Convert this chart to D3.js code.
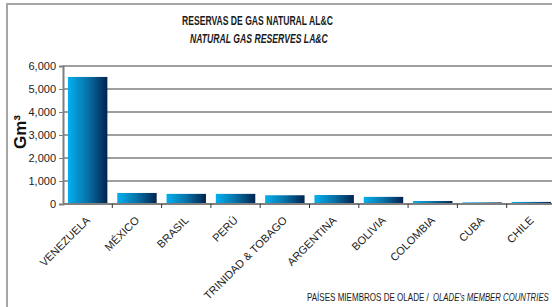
<!DOCTYPE html>
<html>
<head>
<meta charset="utf-8">
<script src="https://cdn.jsdelivr.net/npm/d3@7"></script>
<style>
  body { margin: 0; background: white; }
  #chart { width: 552px; height: 307px; overflow: hidden; }
</style>
</head>
<body>
<div id="chart"></div>
<script>
// data
const countries = ["VENEZUELA", "MÉXICO", "BRASIL", "PERÚ", "TRINIDAD & TOBAGO",
                   "ARGENTINA", "BOLIVIA", "COLOMBIA", "CUBA", "CHILE"];
const reserves = [5524, 480, 440, 440, 380, 390, 310, 130, 70, 90];
const yTicks = [0, 1000, 2000, 3000, 4000, 5000, 6000];

const W = 552, H = 307;
const margin = { top: 66, right: -4, bottom: 103, left: 63 };
const width = W - margin.left - margin.right;
const height = H - margin.top - margin.bottom;
const sans = "'Liberation Sans', Arial, sans-serif";

const root = d3.select("#chart").append("svg")
    .attr("width", W).attr("height", H);

// squeeze a text horizontally so it looks like a narrow face
function narrowText(x0, y0, w, size, bold, italic, str) {
    const t = root.append("text")
        .style("font-family", sans).style("font-size", size + "px").style("fill", "#1a1a1a")
        .style("font-weight", bold ? "bold" : "normal")
        .style("font-style", italic ? "italic" : "normal")
        .text(str);
    const k = w / t.node().getComputedTextLength();
    t.attr("transform", `translate(${x0}, ${y0}) scale(${k}, 1)`);
    return t;
}

// gradient for the bars
const grad = root.append("defs").append("linearGradient")
    .attr("id", "barGrad")
    .attr("x1", "0%").attr("x2", "100%").attr("y1", "0%").attr("y2", "0%");
grad.append("stop").attr("offset", "0%").attr("stop-color", "#03b0ee");
grad.append("stop").attr("offset", "50%").attr("stop-color", "#0872a8");
grad.append("stop").attr("offset", "100%").attr("stop-color", "#00234f");

// chart frame
root.append("rect")
    .attr("x", 7).attr("y", 4).attr("width", W + 10).attr("height", H + 10)
    .attr("fill", "none").attr("stroke", "#a6a6a6").attr("stroke-width", 2);

// titles
narrowText(182, 25, 151, 12.5, true, false, "RESERVAS DE GAS NATURAL AL&C");
narrowText(190, 43, 138, 12.5, true, true, "NATURAL GAS RESERVES LA&C");

const svg = root.append("g")
    .attr("transform", `translate(${margin.left}, ${margin.top})`);

const x = d3.scaleBand().domain(countries).range([0, width]).paddingInner(0.2).paddingOuter(0.1);
const y = d3.scaleLinear().domain([0, 6000]).range([height, 0]);

// gridlines
svg.selectAll(".grid").data(yTicks.slice(1)).enter().append("line")
    .attr("x1", 0).attr("x2", width + 10)
    .attr("y1", d => y(d)).attr("y2", d => y(d))
    .attr("stroke", "#7f7f7f").attr("stroke-width", 1.5);

// bars
svg.selectAll(".bar").data(reserves).enter().append("rect")
    .attr("class", "bar")
    .attr("x", (d, i) => x(countries[i]))
    .attr("y", d => y(d))
    .attr("width", x.bandwidth())
    .attr("height", d => height - y(d))
    .attr("fill", "url(#barGrad)");

// y axis
const yAxis = svg.append("g")
    .call(d3.axisLeft(y).tickValues(yTicks).tickFormat(d3.format(",")).tickSize(4).tickPadding(3));
yAxis.select(".domain").attr("stroke", "#7f7f7f").attr("stroke-width", 2);
yAxis.selectAll(".tick line").attr("stroke", "#7f7f7f");
yAxis.selectAll("text").style("font-family", sans).style("font-size", "11px").style("fill", "#222");

// x axis (ticks at band boundaries)
const step = x.step();
const xBase = svg.append("g").attr("transform", `translate(0, ${height})`);
xBase.append("line").attr("x1", 0).attr("x2", width + 10)
    .attr("stroke", "#7f7f7f").attr("stroke-width", 2);
xBase.selectAll(".xtick").data(countries).enter().append("line")
    .attr("x1", (d, i) => (i + 1) * step).attr("x2", (d, i) => (i + 1) * step)
    .attr("y1", 0).attr("y2", 4)
    .attr("stroke", "#333").attr("stroke-width", 1);

xBase.selectAll(".xlabel").data(countries).enter().append("text")
    .attr("text-anchor", "end")
    .attr("transform", d => `translate(${x(d) + x.bandwidth() / 2 + 3}, 17) rotate(-45)`)
    .style("font-family", sans).style("font-size", "11px").style("fill", "#222")
    .text(d => d);

// y axis title
root.append("text")
    .attr("transform", "translate(26, 132) rotate(-90)")
    .attr("text-anchor", "middle")
    .style("font-family", sans).style("font-weight", "bold").style("font-size", "17px")
    .style("fill", "#111")
    .text("Gm³");

// footer, two pieces
narrowText(307, 301, 122, 10, false, false, "PAÍSES MIEMBROS DE OLADE /");
narrowText(433, 301, 116, 10, false, true, "OLADE's MEMBER COUNTRIES");
</script>
</body>
</html>
